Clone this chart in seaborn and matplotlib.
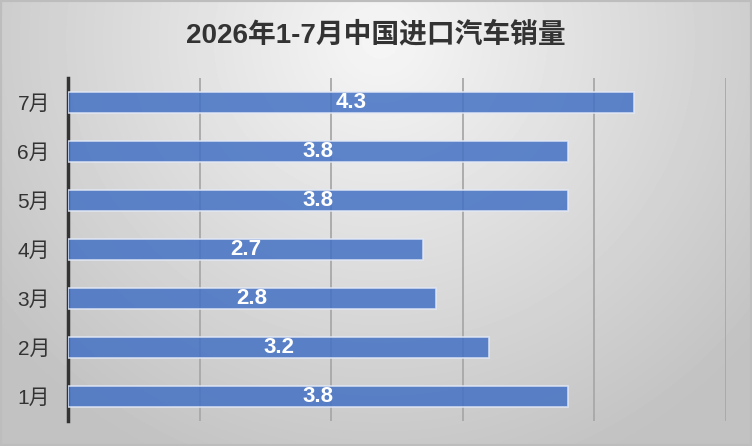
import matplotlib
matplotlib.use('Agg')
import matplotlib.pyplot as plt
import seaborn as sns
import numpy as np
import pandas as pd

# dane
months = ['7月', '6月', '5月', '4月', '3月', '2月', '1月']
sales = [4.3, 3.8, 3.8, 2.7, 2.8, 3.2, 3.8]
title = '2026年1-7月中国进口汽车销量'

df = pd.DataFrame({'month': months, 'sales': sales})

sns.set_theme(style='white')
plt.rcParams['font.family'] = ['Liberation Sans', 'Noto Sans CJK SC', 'DejaVu Sans']

fig = plt.figure(figsize=(7.52, 4.46), dpi=100)

# tło z gradientem (jasne u góry w środku, ciemniejsze przy krawędziach)
bg = fig.add_axes([0, 0, 1, 1], zorder=-10)
yy, xx = np.mgrid[0:446, 0:752]
r = np.sqrt(((xx - 380) / 520.0) ** 2 + ((yy - 40) / 500.0) ** 2)
shade = np.clip(0.965 - 0.22 * r, 0.76, 0.97)
bg.imshow(shade, cmap='gray', vmin=0, vmax=1, aspect='auto',
          extent=[0, 1, 0, 1], origin='upper')
bg.axis('off')

ax = fig.add_axes([68 / 752, 25 / 446, (726 - 68) / 752, (421 - 78) / 446])
ax.patch.set_alpha(0)

sns.barplot(data=df, x='sales', y='month', orient='h', order=months,
            color='#4472c4', alpha=0.85, width=0.41, edgecolor='#e3e9f6',
            linewidth=1.2, saturation=1, ax=ax, zorder=3)

for cont in ax.containers:
    ax.bar_label(cont, labels=[f'{v:.1f}' for v in sales], label_type='center',
                 color='white', fontweight='bold', fontsize=16)

ax.set_xlim(0, 5)
ax.set_ylim(6.5, -0.5)
ax.set_xticks([0, 1, 2, 3, 4, 5])
ax.set_xticklabels([])
ax.xaxis.grid(True, color='#a8a8a8', linewidth=1.3)
ax.set_axisbelow(True)
ax.set_xlabel('')
ax.set_ylabel('')
ax.tick_params(axis='y', length=0, pad=13, labelsize=15, labelcolor='#333333')
ax.tick_params(axis='x', length=0)
for s in ['top', 'right', 'bottom']:
    ax.spines[s].set_visible(False)
ax.spines['left'].set_color('#333333')
ax.spines['left'].set_linewidth(2.5)

fig.text(376 / 752, 1 - 35 / 446, title, ha='center', va='center',
         fontsize=20, fontweight='bold', color='#333333')

# ramka
fig.patches.append(plt.Rectangle((0, 0), 1, 1, transform=fig.transFigure,
                                 fill=False, edgecolor='#bdbdbd', linewidth=3))

plt.savefig('out.png', dpi=100)
